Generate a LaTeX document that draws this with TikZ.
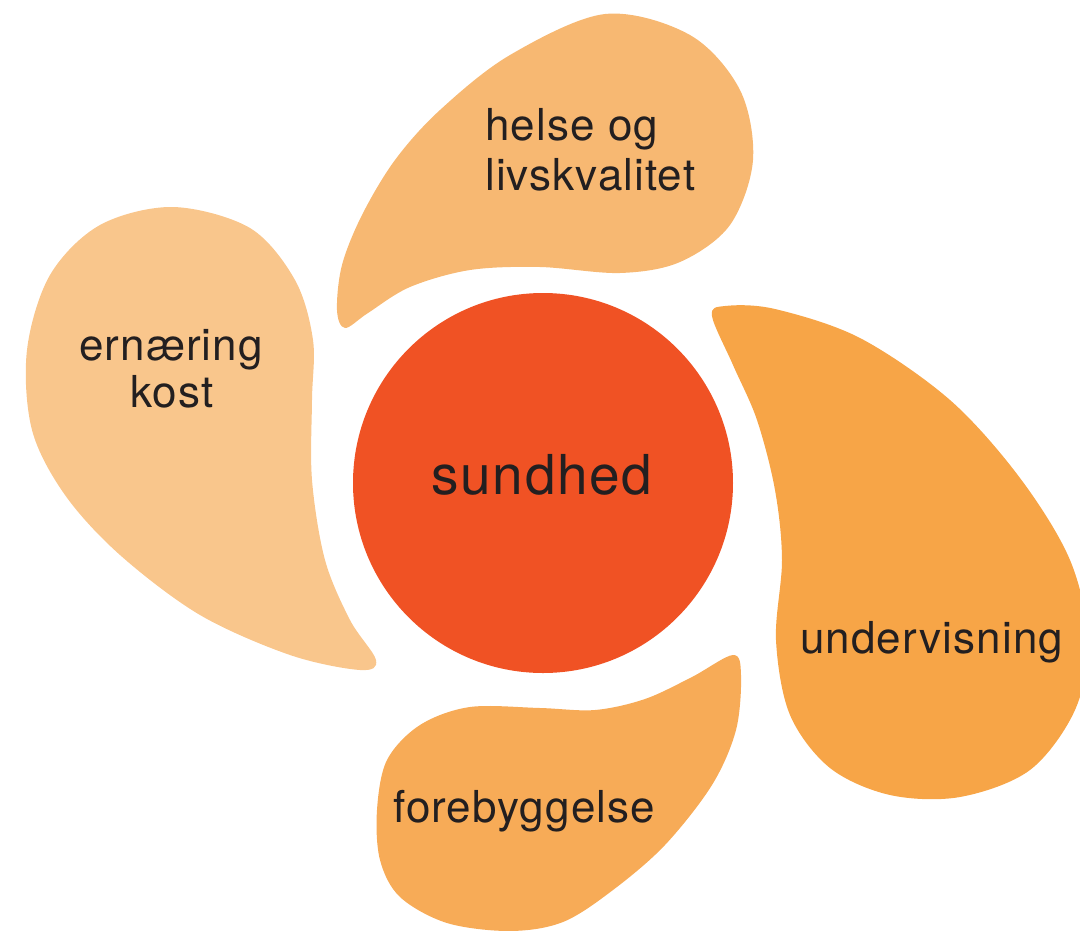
\documentclass[tikz,border=0pt]{standalone}
\usepackage{fontspec}
\setmainfont{TeX Gyre Heros}
\newfontfamily\petalfont[LetterSpace=2.5]{TeX Gyre Heros}
\newfontfamily\hubfont[LetterSpace=3]{TeX Gyre Heros}
\definecolor{ptop}{HTML}{F7B872}
\definecolor{pleft}{HTML}{F9C68C}
\definecolor{pright}{HTML}{F7A547}
\definecolor{pbottom}{HTML}{F7AB57}
\definecolor{hub}{HTML}{F05224}
\definecolor{txt}{HTML}{231F20}
\tikzset{
  petal/.style={draw=none},
  lbl/.style={text=txt, inner sep=0pt, font=\petalfont\fontsize{44}{52}\selectfont},
  hublbl/.style={text=txt, inner sep=0pt, font=\hubfont\fontsize{55}{64}\selectfont}
}
\begin{document}
\begin{tikzpicture}[x=1pt,y=-1pt]
\path[use as bounding box] (0,0) rectangle (1080,930);
\begin{scope}
\clip (0,0) rectangle (1080,930);
% top petal
\fill[ptop, petal] plot[smooth cycle, tension=0.55] coordinates {
 (345,328) (337,310) (342,265) (362,215) (395,160) (440,110) (510,55) (605,14)
 (690,35) (740,90) (753,160) (730,225) (680,262) (620,273) (540,267) (470,270)
 (410,287) (368,313)};
% left petal
\fill[pleft, petal] plot[smooth cycle, tension=0.55] coordinates {
 (173,207) (100,225) (50,275) (27,350) (32,430) (65,495) (120,555) (200,615)
 (290,655) (360,670) (376,660) (350,620) (325,560) (312,480) (312,400) (313,340)
 (295,280) (250,228)};
% right petal
\fill[pright, petal] plot[smooth cycle, tension=0.55] coordinates {
 (712,316) (725,306) (775,309) (860,338) (950,400) (1020,478) (1070,560) (1088,640)
 (1075,710) (1030,770) (960,797) (890,795) (830,768) (790,715) (776,640) (782,560)
 (775,490) (757,420) (733,365)};
% bottom petal
\fill[pbottom, petal] plot[smooth cycle, tension=0.55] coordinates {
 (733,655) (741,675) (736,730) (712,785) (665,845) (613,890) (563,922) (510,931)
 (447,923) (400,897) (380,860) (377,810) (387,760) (420,725) (470,707) (540,708)
 (595,710) (645,699) (692,677)};
\end{scope}
% centre
\fill[hub] (543,483) circle[radius=190];
% labels
\node[lbl, anchor=base west] (helse1) at (485,140) {helse og};
\node[lbl, anchor=base west] (helse2) at (485,190) {livskvalitet};
\node[lbl, anchor=base] (ern1) at (171,360) {ernæring};
\node[lbl, anchor=base] (ern2) at (172,407) {kost};
\node[hublbl, anchor=base] (sund) at (542,494) {sundhed};
\node[lbl, anchor=base west] (underv) at (800,653) {undervisning};
\node[lbl, anchor=base west] (fore) at (393,822) {forebyggelse};
\end{tikzpicture}
\end{document}
